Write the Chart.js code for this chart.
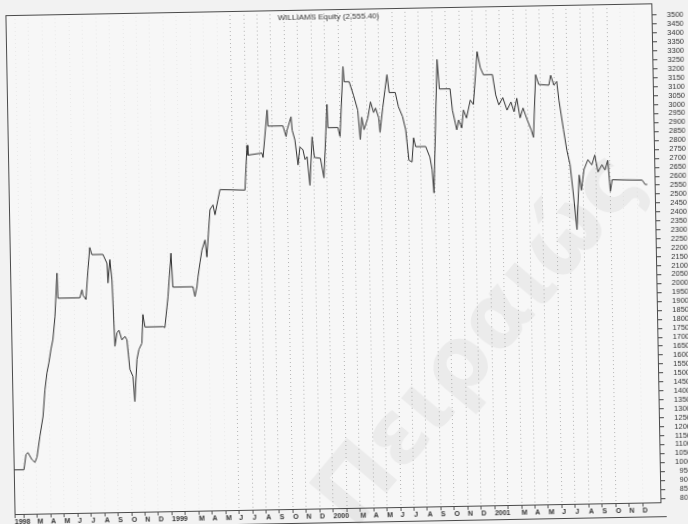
<!DOCTYPE html>
<html>
<head>
<meta charset="utf-8">
<script src="https://cdn.jsdelivr.net/npm/chart.js@4.4.1/dist/chart.umd.min.js"></script>
<style>
  html, body { margin: 0; padding: 0; background: #f2f2f2; overflow: hidden; }
  #wrap { width: 688px; height: 524px; transform: rotate(-1.05deg); transform-origin: 50% 50%; }
</style>
</head>
<body>
<div id="wrap"><canvas id="equityChart" width="688" height="524"></canvas></div>
<script>
const chartTitle = 'WILLIAMS Equity (2,555.40)';
const watermarkText = 'Πειραιώς';

// time in months counted from the start of Jan 1998
const equityMonths = [
  0.3, 1.06, 1.23, 1.38, 1.67, 1.89, 2.05, 2.29, 2.55, 2.73,
  2.9, 3.06, 3.23, 3.39, 3.57, 3.78, 3.82, 5.45, 5.62, 5.68,
  5.9, 6.09, 6.25, 6.4, 7.22, 7.51, 7.56, 7.73, 7.86, 7.99,
  8.16, 8.31, 8.52, 8.75, 8.89, 9.07, 9.29, 9.4, 9.61, 9.77,
  10.0, 10.11, 10.25, 11.59, 11.73, 12.0, 12.28, 12.38, 13.87, 14.01,
  14.17, 14.26, 14.43, 14.59, 14.83, 14.95, 15.24, 15.47, 15.61, 15.85,
  16.01, 17.87, 18.08, 18.14, 19.18, 19.26, 19.62, 19.67, 20.78, 21.0,
  21.08, 21.39, 21.46, 21.65, 21.85, 22.01, 22.23, 22.38, 22.53, 22.71,
  22.93, 23.08, 23.52, 23.76, 24.08, 24.12, 24.86, 25.01, 25.32, 25.39,
  25.76, 26.06, 26.36, 26.51, 26.65, 26.8, 27.1, 27.32, 27.54, 27.69,
  27.91, 27.99, 28.22, 28.41, 28.58, 28.72, 29.17, 29.39, 29.68, 29.9,
  30.1, 30.33, 30.47, 30.62, 31.36, 31.66, 31.81, 31.92, 32.32, 32.46,
  33.25, 33.4, 33.7, 33.85, 34.07, 34.22, 34.44, 34.74, 34.97, 35.31,
  35.53, 35.75, 36.42, 36.64, 36.86, 37.16, 37.46, 37.76, 37.98, 38.2,
  38.42, 38.65, 38.94, 39.24, 39.39, 39.63, 39.85, 40.6, 40.75, 40.97,
  41.19, 41.33, 41.63, 41.85, 42.07, 42.28, 42.5, 42.73, 42.88, 43.1,
  43.4, 43.69, 43.92, 44.14, 44.44, 44.66, 44.88, 45.03, 45.18, 47.41,
  47.63, 47.78
];

const equityValues = [
  1025, 1025, 1110, 1120, 1080, 1065, 1095, 1210, 1320, 1470,
  1565, 1620, 1695, 1750, 1875, 2120, 1980, 1980, 2025, 1995,
  1970, 2135, 2260, 2220, 2220, 2170, 2060, 2190, 2075, 1705,
  1780, 1795, 1740, 1760, 1740, 1575, 1535, 1395, 1630, 1685,
  1720, 1880, 1810, 1810, 1805, 1975, 2220, 2030, 2030, 1975,
  2030, 2085, 2165, 2235, 2290, 2195, 2460, 2485, 2430, 2515,
  2570, 2565, 2815, 2760, 2770, 2745, 3010, 2920, 2920, 2860,
  2895, 2970, 2895, 2840, 2700, 2800, 2785, 2730, 2745, 2585,
  2855, 2740, 2735, 2625, 3035, 2905, 2905, 2855, 3245, 3160,
  3160, 3085, 3000, 2835, 2960, 2890, 2955, 3045, 2985, 3010,
  2955, 2875, 3010, 3110, 3195, 3095, 3095, 3015, 2960, 2885,
  2715, 2705, 2840, 2790, 2790, 2730, 2660, 2530, 3275, 3110,
  3110, 2990, 2880, 2935, 2890, 2990, 2945, 3045, 3020, 3315,
  3225, 3185, 3185, 3070, 3015, 3055, 2985, 3030, 2975, 3050,
  2940, 2995, 2930, 2870, 2830, 3180, 3125, 3120, 3175, 3120,
  3140, 3035, 2870, 2755, 2675, 2505, 2310, 2615, 2530, 2645,
  2700, 2670, 2725, 2630, 2670, 2640, 2695, 2520, 2585, 2580,
  2555, 2555.4
];

// February has no label: the year label takes its place
const xTickLabels = [
  '1998', '', 'M', 'A', 'M', 'J', 'J', 'A', 'S', 'O', 'N', 'D',
  '1999', '', 'M', 'A', 'M', 'J', 'J', 'A', 'S', 'O', 'N', 'D',
  '2000', '', 'M', 'A', 'M', 'J', 'J', 'A', 'S', 'O', 'N', 'D',
  '2001', '', 'M', 'A', 'M', 'J', 'J', 'A', 'S', 'O', 'N', 'D'
];

const yTickValues = [
  800, 850, 900, 950, 1000, 1050, 1100, 1150, 1200, 1250, 1300,
  1350, 1400, 1450, 1500, 1550, 1600, 1650, 1700, 1750, 1800,
  1850, 1900, 1950, 2000, 2050, 2100, 2150, 2200, 2250, 2300,
  2350, 2400, 2450, 2500, 2550, 2600, 2650, 2700, 2750, 2800,
  2850, 2900, 2950, 3000, 3050, 3100, 3150, 3200, 3250, 3300,
  3350, 3400, 3450, 3500
];

const xMin = 0.3, xMax = 48.33;
const yMin = 778, yMax = 3567;

const points = equityMonths.map((m, i) => ({ x: m, y: equityValues[i] }));

const framePlugin = {
  id: 'frame',
  beforeDraw(chart) {
    const { ctx, chartArea: a } = chart;
    ctx.save();
    ctx.fillStyle = '#f7f7f7';
    ctx.fillRect(a.left, a.top, a.right - a.left, a.bottom - a.top);
    ctx.restore();
  },
  beforeDatasetsDraw(chart) {
    // scanned page watermark
    const { ctx } = chart;
    ctx.save();
    ctx.translate(480, 345);
    ctx.rotate(-49 * Math.PI / 180);
    ctx.font = 'bold 90px "DejaVu Sans"';
    ctx.textAlign = 'center';
    ctx.textBaseline = 'middle';
    ctx.fillStyle = 'rgba(150,150,150,0.12)';
    ctx.fillText(watermarkText, 0, 0);
    ctx.restore();
  },
  afterDraw(chart) {
    const { ctx, chartArea: a } = chart;
    ctx.save();
    ctx.strokeStyle = '#4a4a4a';
    ctx.lineWidth = 1;
    ctx.strokeRect(a.left + 0.5, a.top + 0.5, a.right - a.left, a.bottom - a.top);
    ctx.beginPath();
    ctx.moveTo(a.left, a.bottom + 14.5);
    ctx.lineTo(a.right + 6, a.bottom + 14.5);
    ctx.stroke();
    ctx.fillStyle = '#333';
    ctx.font = '8px "Liberation Sans"';
    ctx.textAlign = 'center';
    ctx.textBaseline = 'middle';
    ctx.fillText(chartTitle, (a.left + a.right) / 2, a.top + 8);
    ctx.restore();
  }
};

new Chart(document.getElementById('equityChart'), {
  type: 'line',
  data: {
    datasets: [{
      data: points,
      borderColor: '#333',
      borderWidth: 1,
      pointRadius: 0,
      tension: 0,
      fill: false
    }]
  },
  options: {
    responsive: false,
    animation: false,
    devicePixelRatio: 1,
    layout: { padding: { left: 10, top: 9, right: 0, bottom: 0 } },
    plugins: {
      legend: { display: false },
      tooltip: { enabled: false }
    },
    scales: {
      x: {
        type: 'linear',
        min: xMin,
        max: xMax,
        afterBuildTicks: s => { s.ticks = xTickLabels.map((_, i) => ({ value: Math.max(i, xMin) })); },
        afterFit: s => { s.height = 16; },
        grid: {
          color: c => (c.tick && c.tick.value > 16.5 && c.tick.value < 45.5) ? 'rgba(80,80,80,0.4)' : 'rgba(80,80,80,0.08)',
          tickLength: 4,
          tickColor: '#555'
        },
        border: { display: false, dash: [1, 3] },
        ticks: {
          autoSkip: false,
          maxRotation: 0,
          align: 'start',
          padding: 0,
          color: '#333',
          font: { family: 'Liberation Sans', size: 7, weight: 'bold' },
          callback: (v, i) => xTickLabels[i]
        }
      },
      y: {
        position: 'right',
        min: yMin,
        max: yMax,
        afterBuildTicks: s => { s.ticks = yTickValues.map(v => ({ value: v })); },
        afterFit: s => { s.width = 32; },
        grid: { drawOnChartArea: false, tickLength: 5, tickColor: '#444' },
        border: { display: false },
        ticks: {
          autoSkip: false,
          padding: 1,
          crossAlign: 'far',
          color: '#333',
          font: { family: 'Liberation Sans', size: 7.5 },
          callback: v => String(v)
        }
      }
    }
  },
  plugins: [framePlugin]
});
</script>
</body>
</html>
